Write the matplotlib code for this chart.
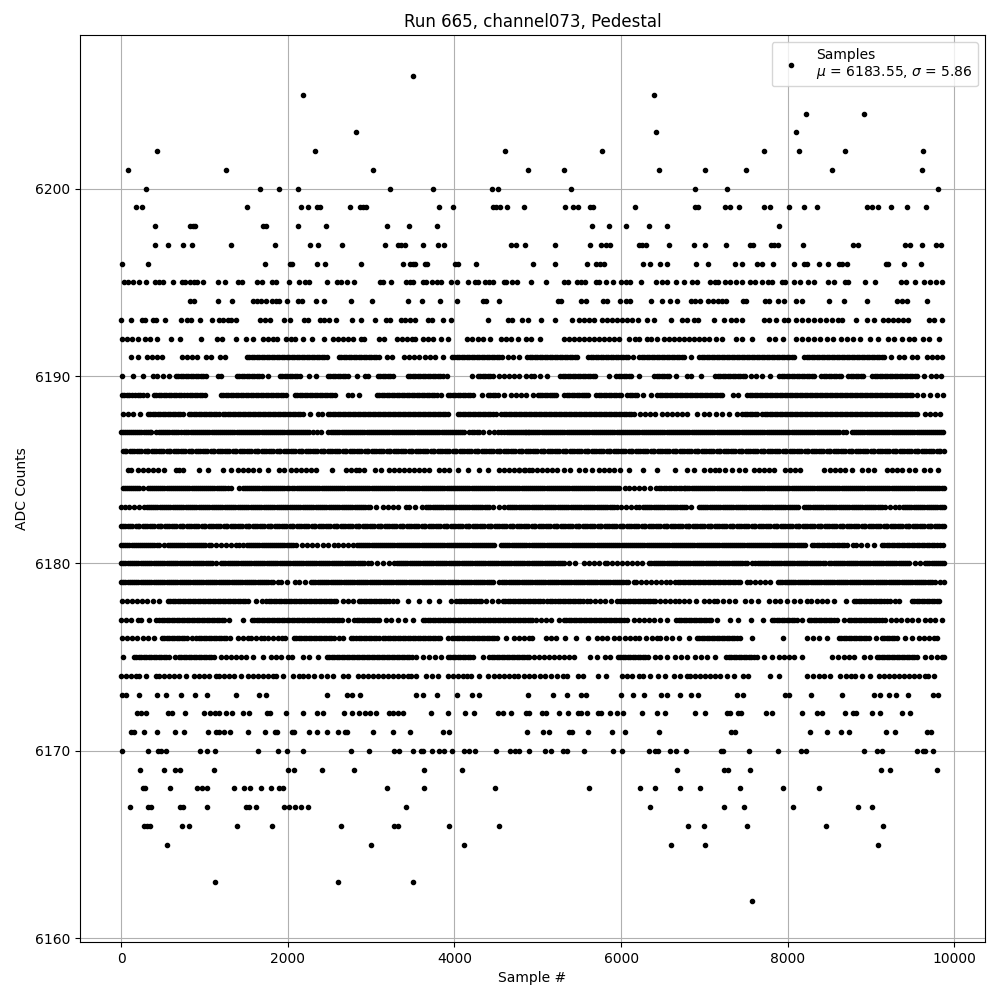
import matplotlib
matplotlib.use("Agg")
import matplotlib.pyplot as plt
import numpy as np

# sample numbers, one list per ADC level
row_6206 = [3500]
row_6205 = [2180, 6396]
row_6204 = [8220, 8916]
row_6203 = [2816, 6420, 8100]
row_6202 = [428, 2324, 4604, 5772, 7716, 8136, 8688, 9624]
row_6201 = [80, 1256, 3020, 4880, 5316, 6456, 7008, 7500, 8532, 9612]
row_6200 = [296, 1664, 1892, 2120, 3224, 3740, 4448, 4520, 5400, 6888, 7272, 9804]
row_6199 = [176, 248, 1508, 2156, 2240, 2348, 2384, 2744, 2864, 2900, 2936, 3812, 3980, 4460, 4496, 4544, 4628, 4832,
            5328, 5424, 5484, 5628, 5664, 6168, 6888, 6924, 7248, 7308, 7416, 7716, 7788, 8016, 8196, 8352, 8952,
            9012, 9084, 9240, 9432, 9660]
row_6198 = [404, 824, 860, 884, 1700, 1736, 2120, 2456, 3188, 3452, 3788, 5652, 5856, 6060, 6336, 6552, 7896]
row_6197 = [404, 560, 740, 848, 1316, 1844, 2264, 2360, 2648, 3164, 3320, 3356, 3404, 3620, 3800, 3872, 4676, 4736,
            4844, 5208, 5628, 5760, 5820, 5868, 6216, 6252, 6300, 6576, 6876, 7008, 7260, 7548, 7584, 7800, 7836,
            7884, 8184, 8784, 8844, 9408, 9468, 9612, 9780, 9840]
row_6196 = [8, 320, 1724, 2024, 2048, 2348, 2444, 2876, 3380, 3464, 3500, 3524, 3644, 3668, 4004, 4040, 4256, 4944,
            5208, 5592, 5700, 5748, 5796, 6264, 6348, 6468, 6552, 6900, 7044, 7368, 7452, 7632, 7692, 7824, 8076,
            8196, 8232, 8376, 8480, 8616, 8652, 8712, 9180, 9204, 9396, 9600]
row_6195 = [32, 80, 140, 212, 296, 404, 452, 500, 620, 728, 764, 824, 872, 908, 980, 1160, 1244, 1400, 1448, 1628,
            1688, 1808, 1856, 2012, 2132, 2204, 2252, 2468, 2588, 2636, 2708, 2792, 3104, 3140, 3244, 3416, 3464,
            3500, 3620, 3656, 3728, 3788, 3836, 3956, 4028, 4160, 4244, 4280, 4364, 4412, 4460, 4592, 4616, 4688,
            4748, 4920, 5100, 5316, 5364, 5472, 5520, 5568, 5700, 5736, 5820, 5900, 6000, 6060, 6108, 6240, 6420,
            6492, 6552, 6660, 6756, 6852, 6912, 7068, 7128, 7164, 7248, 7308, 7380, 7452, 7548, 7608, 7692, 7764,
            7812, 7932, 7968, 8076, 8148, 8244, 8316, 8484, 8556, 8688, 8724, 8928, 9048, 9360, 9420, 9528, 9636,
            9708, 9780, 9852]
row_6194 = [824, 872, 1160, 1328, 1580, 1628, 1676, 1736, 1808, 1856, 1892, 1988, 2120, 2168, 2336, 2432, 2756, 3008,
            3440, 3608, 3824, 4028, 4340, 4376, 4532, 5244, 5280, 5520, 5580, 5784, 5832, 5988, 6060, 6108, 6360,
            6492, 6588, 6672, 6840, 6888, 6948, 7044, 7104, 7164, 7212, 7260, 7464, 7500, 7728, 7776, 7884, 7956,
            8100, 8172, 8496, 8676, 8952, 9312, 9372, 9432, 9672]
row_6193 = [0, 116, 248, 284, 380, 416, 524, 716, 788, 836, 944, 1088, 1172, 1220, 1280, 1320, 1380, 1664, 1724, 1784,
            1952, 2024, 2192, 2240, 2384, 2432, 2492, 2576, 2768, 2876, 3044, 3176, 3224, 3356, 3404, 3464, 3524,
            3680, 3728, 3860, 3956, 4400, 4640, 4688, 4808, 4880, 5040, 5208, 5412, 5496, 5556, 5616, 5676, 5772,
            5832, 5892, 5952, 6012, 6072, 6132, 6204, 6312, 6396, 6600, 6732, 6792, 6876, 6924, 7116, 7236, 7320,
            7380, 7452, 7716, 7776, 7860, 7956, 8004, 8100, 8172, 8244, 8316, 8388, 8460, 8532, 8604, 8652, 8820,
            8952, 9036, 9144, 9204, 9264, 9324, 9384, 9444, 9696, 9756, 9852]
row_6192 = [8, 68, 128, 200, 284, 344, 428, 596, 704, 956, 1148, 1208, 1376, 1496, 1580, 1700, 1760, 1820, 1868, 1976,
            2036, 2084, 2180, 2288, 2432, 2540, 2600, 2660, 2720, 2780, 2876, 2912, 3092, 3152, 3308, 3368, 3428,
            3488, 3524, 3620, 3680, 3740, 3836, 3920, 4148, 4208, 4280, 4340, 4424, 4556, 4616, 4676, 4760, 4856,
            4920, 5028, 5316, 5376, 5436, 5496, 5556, 5616, 5676, 5736, 5796, 5856, 5916, 5976, 6096, 6168, 6216,
            6312, 6360, 6432, 6516, 6576, 6636, 6696, 6756, 6816, 6876, 6936, 6996, 7056, 7140, 7212, 7380, 7452,
            7572, 7776, 7848, 7944, 8100, 8172, 8244, 8316, 8388, 8472, 8544, 8640, 8712, 8784, 8868, 8988, 9084,
            9204, 9276, 9372, 9456, 9516, 9624, 9696, 9816]
row_6191 = [116, 200, 308, 368, 428, 488, 728, 788, 848, 908, 1016, 1076, 1184, 1244, 1508, 1568, 1628, 1688, 1748,
            1808, 1868, 1928, 1988, 2048, 2108, 2168, 2228, 2288, 2348, 2408, 2468, 2612, 2672, 2732, 2792, 2852,
            2912, 2972, 3032, 3092, 3188, 3248, 3392, 3452, 3512, 3572, 3644, 3704, 3764, 3860, 3968, 4028, 4088,
            4148, 4208, 4268, 4328, 4388, 4448, 4508, 4568, 4640, 4700, 4772, 4868, 4932, 4992, 5052, 5112, 5172,
            5232, 5292, 5352, 5412, 5472, 5604, 5664, 5724, 5784, 5844, 5904, 5964, 6024, 6084, 6144, 6216, 6276,
            6336, 6396, 6456, 6516, 6576, 6636, 6696, 6756, 6840, 6936, 6996, 7056, 7116, 7176, 7236, 7296, 7356,
            7416, 7476, 7536, 7596, 7656, 7716, 7776, 7836, 7896, 7956, 8016, 8076, 8196, 8256, 8316, 8376, 8436,
            8496, 8556, 8616, 8676, 8736, 8796, 8856, 8916, 8976, 9036, 9096, 9156, 9236, 9332, 9392, 9492, 9552,
            9672, 9732, 9792, 9852,
            1538, 1598, 1658, 1718, 1778, 1838, 1898, 1958, 2018, 2078, 2138, 2198, 2258, 2318, 2378, 2438, 2642,
            2702, 2762, 2822, 2882, 2942, 3002, 3062, 3998, 4058, 4118, 4178, 4238, 4298, 4358, 4418, 4478, 4538,
            4902, 4962, 5022, 5082, 5142, 5202, 5262, 5322, 5382, 5442, 5634, 5694, 5754, 5814, 5874, 5934, 5994,
            6054, 6246, 6306, 6366, 6426, 6486, 6546, 6606, 6666, 6726, 6966, 7026, 7086, 7146, 7206, 7266, 7326,
            7386, 7446, 7506, 7566, 7626, 7686, 7746, 7806, 7866, 7926, 7986, 8046, 8226, 8286, 8346, 8406, 8466,
            8526, 8586, 8646, 8706, 8766, 8826, 8886, 8946, 9006, 9066, 9126]
row_6190 = [8, 140, 260, 380, 428, 500, 572, 656, 716, 776, 836, 896, 956, 1016, 1160, 1196, 1388, 1448, 1508, 1568,
            1628, 1688, 1760, 1904, 1964, 2024, 2084, 2144, 2252, 2336, 2480, 2540, 2600, 2660, 2720, 2828, 2924,
            2960, 3080, 3140, 3200, 3260, 3440, 3500, 3560, 3620, 3680, 3740, 3800, 3860, 3908, 4208, 4280, 4340,
            4400, 4460, 4532, 4592, 4652, 4712, 4772, 4856, 4920, 4956, 5028, 5112, 5268, 5328, 5388, 5448, 5508,
            5568, 5628, 5688, 5856, 5940, 6000, 6060, 6120, 6216, 6396, 6456, 6516, 6576, 6660, 6792, 6840, 6960,
            7128, 7188, 7248, 7308, 7368, 7428, 7488, 7560, 7620, 7692, 7788, 7896, 7956, 8016, 8076, 8136, 8196,
            8256, 8316, 8400, 8460, 8520, 8580, 8640, 8724, 8784, 8844, 8904, 9012, 9072, 9132, 9192, 9252, 9312,
            9372, 9432, 9492, 9552, 9636, 9720, 9780, 9840,
            686, 746, 806, 866, 926, 986, 1418, 1478, 1538, 1598, 1658, 1934, 1994, 2054, 2114, 2510, 2570, 2630,
            2690, 3110, 3170, 3230, 3470, 3530, 3590, 3650, 3710, 3770, 3830, 4310, 4370, 4430, 5298, 5358, 5418,
            5478, 5538, 5598, 5658, 5970, 6030, 6090, 6426, 6486, 6546, 7158, 7218, 7278, 7338, 7398, 7458, 7926,
            7986, 8046, 8106, 8166, 8226, 8286, 8430, 8490, 8550, 8610, 8754, 8814, 8874, 9042, 9102, 9162, 9222,
            9282, 9342, 9402, 9462, 9522]
row_6189 = [8, 68, 128, 200, 260, 308, 392, 452, 512, 572, 632, 692, 752, 824, 884, 944, 1004, 1196, 1256, 1316, 1376,
            1436, 1496, 1556, 1616, 1676, 1736, 1796, 1856, 1916, 1976, 2084, 2144, 2204, 2264, 2324, 2384, 2444,
            2504, 2564, 2720, 2768, 2852, 3068, 3128, 3188, 3248, 3308, 3368, 3428, 3488, 3548, 3608, 3668, 3728,
            3788, 3836, 3920, 3980, 4040, 4100, 4160, 4220, 4328, 4400, 4460, 4520, 4592, 4676, 4736, 4796, 4856,
            4944, 5004, 5052, 5112, 5172, 5220, 5316, 5376, 5436, 5496, 5556, 5604, 5700, 5760, 5820, 5880, 5940,
            6000, 6072, 6132, 6192, 6264, 6360, 6432, 6492, 6552, 6612, 6672, 6732, 6792, 6852, 6912, 6972, 7032,
            7092, 7152, 7212, 7344, 7404, 7512, 7572, 7632, 7692, 7752, 7812, 7872, 7932, 7992, 8052, 8112, 8172,
            8232, 8292, 8352, 8412, 8472, 8532, 8592, 8652, 8712, 8772, 8832, 8892, 8952, 9012, 9072, 9132, 9192,
            9252, 9312, 9372, 9432, 9492, 9552, 9624, 9712, 9792, 9860,
            38, 98, 164, 230, 422, 482, 542, 602, 662, 722, 788, 854, 914, 974, 1226, 1286, 1346, 1406, 1466, 1526,
            1586, 1646, 1706, 1766, 1826, 1886, 1946, 2114, 2174, 2234, 2294, 2354, 2414, 2474, 2534, 3098, 3158,
            3218, 3278, 3338, 3398, 3458, 3518, 3578, 3638, 3698, 3758, 3950, 4010, 4070, 4130, 4190, 4430, 4490,
            5026, 5082, 5142, 5196, 5346, 5406, 5466, 5526, 5576, 5730, 5790, 5850, 5910, 5970, 6102, 6162, 6462,
            6522, 6582, 6642, 6702, 6762, 6822, 6882, 6942, 7002, 7062, 7122, 7182, 7542, 7602, 7662, 7722, 7782,
            7842, 7902, 7962, 8022, 8082, 8142, 8202, 8262, 8322, 8382, 8442, 8502, 8562, 8622, 8682, 8742, 8802,
            8862, 8922, 8982, 9042, 9102, 9162, 9222, 9282, 9342, 9402, 9462]
row_6188 = [20, 80, 140, 224, 320, 380, 440, 500, 560, 620, 680, 740, 812, 872, 932, 992, 1052, 1112, 1172, 1220, 1280,
            1340, 1400, 1460, 1520, 1580, 1640, 1700, 1760, 1820, 1880, 1940, 2000, 2060, 2120, 2180, 2268, 2360,
            2412, 2480, 2540, 2600, 2660, 2720, 2780, 2840, 2900, 2960, 3020, 3080, 3140, 3200, 3260, 3320, 3380,
            3440, 3500, 3560, 3620, 3680, 3740, 3800, 3860, 3920, 4040, 4100, 4160, 4220, 4280, 4340, 4400, 4460,
            4500, 4560, 4620, 4680, 4740, 4800, 4860, 4892, 4952, 5012, 5072, 5132, 5192, 5252, 5312, 5372, 5432,
            5492, 5552, 5612, 5672, 5732, 5792, 5852, 5912, 5972, 6032, 6092, 6152, 6232, 6292, 6352, 6412, 6492,
            6552, 6612, 6672, 6732, 6792, 6912, 6992, 7060, 7140, 7212, 7300, 7392, 7452, 7512, 7572, 7632, 7692,
            7752, 7812, 7872, 7932, 7992, 8052, 8112, 8172, 8232, 8292, 8352, 8412, 8472, 8532, 8592, 8652, 8712,
            8772, 8832, 8892, 8952, 9012, 9072, 9132, 9192, 9252, 9312, 9372, 9432, 9492, 9552, 9644, 9704, 9764, 9830,
            350, 410, 470, 530, 590, 650, 710, 842, 902, 962, 1022, 1082, 1142, 1250, 1310, 1370, 1430, 1490, 1550,
            1610, 1670, 1730, 1790, 1850, 1910, 1970, 2030, 2090, 2150, 2510, 2570, 2630, 2690, 2750, 2810, 2870,
            2930, 2990, 3050, 3110, 3170, 3230, 3290, 3350, 3410, 3470, 3530, 3590, 3650, 3710, 3770, 3830, 3890,
            4070, 4130, 4190, 4250, 4310, 4370, 4430, 4590, 4650, 4710, 4770, 4830, 4922, 4982, 5042, 5102, 5162,
            5222, 5282, 5342, 5402, 5462, 5522, 5582, 5642, 5702, 5762, 5822, 5882, 5942, 6002, 6062, 6122, 7482,
            7542, 7602, 7722, 7782, 7842, 7902, 7962, 8022, 8082, 8142, 8202, 8262, 8322, 8382, 8442, 8502, 8562,
            8622, 8682, 8742, 8802, 8862, 8922, 8982, 9042, 9102, 9162, 9222, 9282, 9342, 9402, 9462, 9522]
row_6187 = [0, 48, 96, 148, 196, 244, 296, 344, 360, 420, 476, 528, 580, 632, 684, 720, 760, 808, 860, 908, 960, 1012,
            1060, 1112, 1160, 1212, 1260, 1312, 1360, 1412, 1460, 1512, 1560, 1612, 1660, 1712, 1760, 1812, 1860,
            1912, 1960, 2012, 2060, 2112, 2160, 2212, 2260, 2300, 2350, 2400, 2480, 2520, 2572, 2620, 2672, 2720,
            2772, 2820, 2872, 2920, 2972, 3020, 3072, 3120, 3172, 3220, 3272, 3320, 3372, 3420, 3472, 3520, 3572,
            3620, 3672, 3720, 3772, 3820, 3872, 3920, 3972, 4020, 4072, 4120, 4180, 4240, 4290, 4340, 4420, 4470,
            4520, 4560, 4600, 4652, 4700, 4752, 4800, 4852, 4900, 4860, 4920, 4970, 5020, 5072, 5120, 5172, 5220,
            5272, 5320, 5372, 5420, 5472, 5520, 5572, 5620, 5672, 5720, 5772, 5820, 5872, 5920, 5972, 6020, 6072,
            6120, 6172, 6220, 6272, 6320, 6372, 6420, 6472, 6520, 6572, 6620, 6672, 6720, 6772, 6820, 6872, 6920,
            6972, 7020, 7072, 7120, 7172, 7220, 7272, 7320, 7372, 7420, 7472, 7520, 7572, 7620, 7672, 7720, 7772,
            7820, 7872, 7920, 7972, 8020, 8072, 8120, 8172, 8220, 8272, 8320, 8372, 8420, 8472, 8520, 8572, 8620,
            8660, 8700, 8772, 8820, 8872, 8920, 8972, 9020, 9072, 9120, 9172, 9220, 9272, 9320, 9372, 9420, 9472,
            9520, 9572, 9620, 9672, 9720, 9772, 9820, 9860,
            24, 72, 122, 172, 220, 270, 320, 450, 502, 554, 606, 658, 784, 834, 884, 934, 986, 1036, 1086, 1136, 1186,
            1236, 1286, 1336, 1386, 1436, 1486, 1536, 1586, 1636, 1686, 1736, 1786, 1836, 1886, 1936, 1986, 2036,
            2086, 2136, 2186, 2236, 2546, 2596, 2646, 2696, 2746, 2796, 2846, 2896, 2946, 2996, 3046, 3096, 3146,
            3196, 3246, 3296, 3346, 3396, 3446, 3496, 3546, 3596, 3646, 3696, 3746, 3796, 3846, 3896, 3946, 3996,
            4046, 4096, 4210, 4266, 4626, 4676, 4726, 4776, 4826, 4880, 4945, 4995, 5046, 5096, 5146, 5196, 5246,
            5296, 5346, 5396, 5446, 5496, 5546, 5596, 5646, 5696, 5746, 5796, 5846, 5896, 5946, 5996, 6046, 6096,
            6146, 6196, 6246, 6296, 6346, 6396, 6446, 6496, 6546, 6596, 6646, 6696, 6746, 6796, 6846, 6896, 6946,
            6996, 7046, 7096, 7146, 7196, 7246, 7296, 7346, 7396, 7446, 7496, 7546, 7596, 7646, 7696, 7746, 7796,
            7846, 7896, 7946, 7996, 8046, 8096, 8146, 8196, 8246, 8296, 8346, 8396, 8446, 8496, 8546, 8596, 8796,
            8846, 8896, 8946, 8996, 9046, 9096, 9146, 9196, 9246, 9296, 9346, 9396, 9446, 9496, 9546, 9596, 9646,
            9696, 9746, 9796, 9840]
row_6186 = [20, 64, 108, 152, 196, 240, 284, 328, 372, 416, 460, 504, 548, 592, 636, 680, 724, 768, 812, 856, 900, 944,
            988, 1032, 1076, 1120, 1164, 1208, 1252, 1296, 1340, 1384, 1428, 1472, 1516, 1560, 1604, 1648, 1692,
            1736, 1780, 1824, 1868, 1912, 1956, 2000, 2044, 2088, 2132, 2176, 2220, 2264, 2308, 2352, 2396, 2440,
            2484, 2528, 2572, 2616, 2660, 2704, 2748, 2792, 2836, 2880, 2924, 2968, 3012, 3056, 3100, 3144, 3188,
            3232, 3276, 3320, 3364, 3408, 3452, 3496, 3540, 3584, 3628, 3672, 3716, 3760, 3804, 3848, 3892, 3936,
            3980, 4024, 4068, 4112, 4156, 4200, 4244, 4288, 4332, 4376, 4420, 4464, 4508, 4552, 4596, 4640, 4684,
            4728, 4772, 4816, 4860, 4904, 4948, 4992, 5036, 5080, 5124, 5168, 5212, 5256, 5300, 5344, 5388, 5432,
            5476, 5520, 5564, 5608, 5652, 5696, 5740, 5784, 5828, 5872, 5916, 5960, 6004, 6048, 6092, 6136, 6180,
            6224, 6268, 6312, 6356, 6400, 6444, 6488, 6532, 6576, 6620, 6664, 6708, 6752, 6796, 6840, 6884, 6928,
            6972, 7016, 7060, 7104, 7148, 7192, 7236, 7280, 7324, 7368, 7412, 7456, 7500, 7544, 7588, 7632, 7676,
            7720, 7764, 7808, 7852, 7896, 7940, 7984, 8028, 8072, 8116, 8160, 8204, 8248, 8292, 8336, 8380, 8424,
            8468, 8512, 8556, 8600, 8644, 8688, 8732, 8776, 8820, 8864, 8908, 8952, 8996, 9040, 9084, 9128, 9172,
            9216, 9260, 9304, 9348, 9392, 9436, 9480, 9524, 9568, 9612, 9656, 9700, 9744, 9788, 9832, 9873,
            42, 130, 218, 306, 394, 482, 570, 658, 746, 834, 922, 1010, 1098, 1186, 1274, 1362, 1450, 1538, 1626,
            1714, 1802, 1890, 1978, 2066, 2154, 2242, 2330, 2418, 2506, 2594, 2682, 2770, 2858, 2946, 3034, 3122,
            3210, 3298, 3386, 3474, 3562, 3650, 3738, 3826, 3914, 4002, 4090, 4178, 4266, 4354, 4442, 4530, 4618,
            4706, 4794, 4882, 4970, 5058, 5146, 5234, 5322, 5410, 5498, 5586, 5674, 5762, 5850, 5938, 6026, 6114,
            6202, 6290, 6378, 6466, 6554, 6642, 6730, 6818, 6906, 6994, 7082, 7170, 7258, 7346, 7434, 7522, 7610,
            7698, 7786, 7874, 7962, 8050, 8138, 8226, 8314, 8402, 8490, 8578, 8666, 8754, 8842, 8930, 9018, 9106,
            9194, 9282, 9370, 9458, 9546, 9634, 9722, 9810]
row_6185 = [80, 124, 200, 260, 320, 380, 440, 520, 660, 700, 740, 940, 1040, 1220, 1316, 1400, 1460, 1520, 1580, 1652,
            1760, 1900, 1960, 2040, 2100, 2160, 2220, 2280, 2340, 2528, 2700, 2760, 2820, 2860, 2920, 3052, 3120,
            3220, 3280, 3340, 3400, 3460, 3520, 3580, 3640, 3700, 3820, 3880, 3940, 4040, 4160, 4292, 4400, 4540,
            4600, 4660, 4720, 4780, 4840, 4900, 4772, 4850, 4932, 4992, 5052, 5112, 5172, 5232, 5312, 5392, 5492,
            5572, 5652, 5732, 5792, 5852, 5912, 5992, 6096, 6264, 6432, 6648, 6792, 6872, 6992, 7072, 7132, 7172,
            7252, 7332, 7412, 7492, 7592, 7652, 7712, 7772, 7832, 7972, 8032, 8092, 8152, 8436, 8512, 8572, 8632,
            8692, 8772, 8892, 8960, 9032, 9192, 9252, 9312, 9372, 9452, 9532, 9632, 9712, 9804]
row_6184 = [20, 70, 120, 170, 220, 260, 320, 370, 420, 470, 520, 570, 620, 670, 720, 770, 820, 870, 920, 970, 1020,
            1070, 1120, 1170, 1220, 1280, 1320, 1420, 1460, 1510, 1560, 1610, 1660, 1710, 1760, 1810, 1860, 1910,
            1960, 2010, 2052, 2080, 2130, 2180, 2230, 2280, 2330, 2380, 2430, 2480, 2530, 2580, 2630, 2680, 2730,
            2780, 2830, 2880, 2930, 2980, 3030, 3080, 3130, 3180, 3230, 3280, 3330, 3380, 3430, 3480, 3530, 3580,
            3630, 3680, 3730, 3780, 3830, 3880, 3930, 3980, 4030, 4080, 4130, 4180, 4230, 4280, 4330, 4380, 4430,
            4480, 4530, 4580, 4630, 4680, 4730, 4780, 4830, 4880, 4930, 4980, 5030, 5080, 5130, 5180, 5230, 5280,
            5330, 5380, 5430, 5480, 5530, 5580, 5630, 5680, 5730, 5780, 5830, 5880, 5930, 5980, 6044, 6092, 6150,
            6210, 6270, 6352, 6420, 6480, 6540, 6600, 6660, 6720, 6752, 6772, 6820, 6870, 6920, 6970, 7020, 7070,
            7120, 7170, 7220, 7270, 7320, 7370, 7420, 7470, 7520, 7570, 7620, 7670, 7720, 7770, 7820, 7870, 7920,
            7970, 8020, 8070, 8120, 8170, 8220, 8270, 8320, 8370, 8420, 8470, 8520, 8570, 8620, 8670, 8720, 8770,
            8820, 8870, 8920, 8970, 9020, 9070, 9120, 9170, 9220, 9270, 9320, 9370, 9420, 9470, 9520, 9570, 9620,
            9670, 9720, 9770, 9820, 9870,
            45, 95, 145, 195, 345, 395, 445, 495, 545, 595, 645, 695, 745, 795, 845, 895, 945, 995, 1045, 1095, 1145,
            1195, 1245, 1485, 1535, 1585, 1635, 1685, 1735, 1785, 1835, 1885, 1935, 1985, 2105, 2155, 2205, 2255,
            2305, 2355, 2405, 2455, 2505, 2555, 2605, 2655, 2705, 2755, 2805, 2855, 2905, 2955, 3005, 3055, 3105,
            3155, 3205, 3255, 3305, 3355, 3405, 3455, 3505, 3555, 3605, 3655, 3705, 3755, 3805, 3855, 3905, 3955,
            4005, 4055, 4105, 4155, 4205, 4255, 4305, 4355, 4405, 4455, 4505, 4555, 4605, 4655, 4705, 4755, 4805,
            4855, 4905, 4955, 5005, 5055, 5105, 5155, 5205, 5255, 5305, 5355, 5405, 5455, 5505, 5555, 5605, 5655,
            5705, 5755, 5805, 5855, 5905, 5955, 6450, 6510, 6570, 6630, 6690, 6795, 6845, 6895, 6945, 6995, 7045,
            7095, 7145, 7195, 7245, 7295, 7345, 7395, 7445, 7495, 7545, 7595, 7645, 7695, 7745, 7795, 7845, 7895,
            7945, 7995, 8045, 8095, 8145, 8195, 8245, 8295, 8345, 8395, 8445, 8495, 8545, 8595, 8645, 8695, 8745,
            8795, 8845, 8895, 8945, 8995, 9045, 9095, 9145, 9195, 9245, 9295, 9345, 9395, 9445, 9495, 9545, 9595,
            9645, 9695, 9745, 9795, 9845]
row_6183 = [0, 52, 100, 160, 220, 280, 332, 384, 436, 488, 540, 592, 644, 696, 748, 800, 852, 904, 956, 1008, 1060,
            1112, 1164, 1216, 1268, 1320, 1372, 1424, 1476, 1528, 1580, 1632, 1684, 1736, 1788, 1840, 1892, 1944,
            1996, 2048, 2100, 2152, 2204, 2256, 2308, 2360, 2412, 2464, 2516, 2568, 2620, 2672, 2724, 2776, 2828,
            2880, 2932, 2984, 3060, 3140, 3200, 3260, 3320, 3420, 3460, 3530, 3612, 3660, 3712, 3764, 3816, 3868,
            3920, 3972, 4024, 4076, 4128, 4180, 4232, 4284, 4336, 4388, 4420, 4460, 4530, 4600, 4640, 4692, 4744,
            4796, 4848, 4900, 4952, 5004, 5056, 5108, 5160, 5212, 5264, 5316, 5368, 5420, 5472, 5524, 5576, 5628,
            5680, 5732, 5784, 5836, 5888, 5952, 6004, 6060, 6120, 6180, 6212, 6260, 6312, 6364, 6416, 6468, 6520,
            6572, 6624, 6676, 6728, 6780, 6844, 6932, 6984, 7036, 7088, 7140, 7192, 7244, 7296, 7348, 7400, 7452,
            7504, 7556, 7608, 7660, 7712, 7764, 7816, 7868, 7920, 7972, 8024, 8076, 8128, 8192, 8220, 8272, 8324,
            8376, 8428, 8480, 8532, 8584, 8636, 8688, 8740, 8792, 8844, 8896, 8948, 9000, 9052, 9104, 9132, 9172,
            9232, 9292, 9332, 9380, 9432, 9484, 9536, 9588, 9640, 9692, 9744, 9796, 9848, 9872,
            306, 358, 410, 462, 514, 566, 618, 670, 722, 774, 826, 878, 930, 982, 1034, 1086, 1138, 1190, 1242, 1294,
            1346, 1398, 1450, 1502, 1554, 1606, 1658, 1710, 1762, 1814, 1866, 1918, 1970, 2022, 2074, 2126, 2178,
            2230, 2282, 2334, 2386, 2438, 2490, 2542, 2594, 2646, 2698, 2750, 2802, 2854, 2906, 2958, 3686, 3738,
            3790, 3842, 3894, 3946, 3998, 4050, 4102, 4154, 4206, 4258, 4310, 4362, 4666, 4718, 4770, 4822, 4874,
            4926, 4978, 5030, 5082, 5134, 5186, 5238, 5290, 5342, 5394, 5446, 5498, 5550, 5602, 5654, 5706, 5758,
            5810, 5862, 5914, 6286, 6338, 6390, 6442, 6494, 6546, 6598, 6650, 6702, 6754, 6958, 7010, 7062, 7114,
            7166, 7218, 7270, 7322, 7374, 7426, 7478, 7530, 7582, 7634, 7686, 7738, 7790, 7842, 7894, 7946, 7998,
            8050, 8102, 8246, 8298, 8350, 8402, 8454, 8506, 8558, 8610, 8662, 8714, 8766, 8818, 8870, 8922, 8974,
            9026, 9078, 9406, 9458, 9510, 9562, 9614, 9666, 9718, 9770, 9822]
row_6182 = [0, 44, 88, 132, 176, 220, 264, 308, 352, 396, 440, 484, 528, 572, 616, 660, 704, 748, 792, 836, 880, 924,
            968, 1012, 1056, 1100, 1144, 1188, 1232, 1276, 1320, 1364, 1408, 1452, 1496, 1540, 1584, 1628, 1672,
            1716, 1760, 1804, 1848, 1892, 1936, 1980, 2024, 2068, 2112, 2156, 2200, 2244, 2288, 2332, 2376, 2420,
            2464, 2508, 2552, 2596, 2640, 2684, 2728, 2772, 2816, 2860, 2904, 2948, 2992, 3036, 3080, 3124, 3168,
            3212, 3256, 3300, 3344, 3388, 3432, 3476, 3520, 3564, 3608, 3652, 3696, 3740, 3784, 3828, 3872, 3916,
            3960, 4004, 4048, 4092, 4136, 4180, 4224, 4268, 4312, 4356, 4400, 4444, 4488, 4532, 4576, 4620, 4664,
            4708, 4752, 4796, 4840, 4884, 4928, 4972, 5016, 5060, 5104, 5148, 5192, 5236, 5280, 5324, 5368, 5412,
            5456, 5500, 5544, 5588, 5632, 5676, 5720, 5764, 5808, 5852, 5896, 5940, 5984, 6028, 6072, 6116, 6160,
            6204, 6248, 6292, 6336, 6380, 6424, 6468, 6512, 6556, 6600, 6644, 6688, 6732, 6776, 6820, 6864, 6908,
            6952, 6996, 7040, 7084, 7128, 7172, 7216, 7260, 7304, 7348, 7392, 7436, 7480, 7524, 7568, 7612, 7656,
            7700, 7744, 7788, 7832, 7876, 7920, 7964, 8008, 8052, 8096, 8140, 8184, 8228, 8272, 8316, 8360, 8404,
            8448, 8492, 8536, 8580, 8624, 8668, 8712, 8756, 8800, 8844, 8888, 8932, 8976, 9020, 9064, 9108, 9152,
            9196, 9240, 9284, 9328, 9372, 9416, 9460, 9504, 9548, 9592, 9636, 9680, 9724, 9768, 9812, 9856, 9873,
            22, 110, 198, 286, 374, 462, 550, 638, 726, 814, 902, 990, 1078, 1166, 1254, 1342, 1430, 1518, 1606, 1694,
            1782, 1870, 1958, 2046, 2134, 2222, 2310, 2398, 2486, 2574, 2662, 2750, 2838, 2926, 3014, 3102, 3190,
            3278, 3366, 3454, 3542, 3630, 3718, 3806, 3894, 3982, 4070, 4158, 4246, 4334, 4422, 4510, 4598, 4686,
            4774, 4862, 4950, 5038, 5126, 5214, 5302, 5390, 5478, 5566, 5654, 5742, 5830, 5918, 6006, 6094, 6182,
            6270, 6358, 6446, 6534, 6622, 6710, 6798, 6886, 6974, 7062, 7150, 7238, 7326, 7414, 7502, 7590, 7678,
            7766, 7854, 7942, 8030, 8118, 8206, 8294, 8382, 8470, 8558, 8646, 8734, 8822, 8910, 8998, 9086, 9174,
            9262, 9350, 9438, 9526, 9614, 9702, 9790]
row_6181 = [0, 50, 100, 150, 200, 250, 300, 350, 400, 450, 520, 560, 610, 660, 710, 760, 810, 860, 910, 960, 1010,
            1052, 1080, 1140, 1200, 1260, 1320, 1380, 1420, 1468, 1508, 1560, 1610, 1660, 1710, 1760, 1810, 1860,
            1910, 1960, 2010, 2060, 2100, 2172, 2228, 2290, 2350, 2428, 2480, 2560, 2600, 2660, 2720, 2780, 2830,
            2880, 2928, 2980, 3030, 3080, 3130, 3180, 3230, 3280, 3330, 3380, 3430, 3480, 3530, 3580, 3630, 3680,
            3730, 3780, 3830, 3880, 3930, 3980, 4030, 4080, 4130, 4180, 4230, 4280, 4330, 4380, 4430, 4480, 4560,
            4610, 4660, 4710, 4760, 4810, 4860, 4900, 4932, 4980, 5030, 5080, 5130, 5180, 5230, 5280, 5330, 5380,
            5430, 5480, 5530, 5580, 5630, 5680, 5730, 5780, 5830, 5880, 5930, 5980, 6030, 6080, 6130, 6180, 6230,
            6280, 6330, 6380, 6430, 6480, 6530, 6580, 6630, 6680, 6730, 6780, 6830, 6880, 6930, 6980, 7030, 7080,
            7130, 7180, 7230, 7280, 7330, 7380, 7430, 7480, 7530, 7580, 7630, 7680, 7730, 7780, 7830, 7880, 7930,
            7980, 8030, 8080, 8130, 8180, 8212, 8292, 8350, 8410, 8470, 8530, 8590, 8650, 8710, 8784, 8820, 8880,
            8950, 9032, 9132, 9190, 9250, 9310, 9370, 9430, 9490, 9550, 9610, 9670, 9730, 9790, 9860,
            25, 75, 125, 175, 225, 275, 325, 375, 425, 585, 635, 685, 735, 785, 835, 885, 935, 985, 1535, 1585, 1635,
            1685, 1735, 1785, 1835, 1885, 1935, 1985, 2035, 2855, 2905, 2955, 3005, 3055, 3105, 3155, 3205, 3255,
            3305, 3355, 3405, 3455, 3505, 3555, 3605, 3655, 3705, 3755, 3805, 3855, 3905, 3955, 4005, 4055, 4105,
            4155, 4205, 4255, 4305, 4355, 4405, 4455, 4585, 4635, 4685, 4735, 4785, 4835, 4955, 5005, 5055, 5105,
            5155, 5205, 5255, 5305, 5355, 5405, 5455, 5505, 5555, 5605, 5655, 5705, 5755, 5805, 5855, 5905, 5955,
            6005, 6055, 6105, 6155, 6205, 6255, 6305, 6355, 6405, 6455, 6505, 6555, 6605, 6655, 6705, 6755, 6805,
            6855, 6905, 6955, 7005, 7055, 7105, 7155, 7205, 7255, 7305, 7355, 7405, 7455, 7505, 7555, 7605, 7655,
            7705, 7755, 7805, 7855, 7905, 7955, 8005, 8055, 8105, 8155, 8320, 8380, 8440, 8500, 8560, 8620, 8680,
            9160, 9220, 9280, 9340, 9400, 9460, 9520, 9580, 9640, 9700, 9760, 9825]
row_6180 = [0, 52, 104, 156, 208, 260, 312, 364, 416, 468, 520, 572, 624, 676, 728, 780, 832, 884, 936, 988, 1040,
            1092, 1140, 1200, 1252, 1304, 1356, 1408, 1460, 1512, 1564, 1616, 1668, 1720, 1772, 1824, 1876, 1928,
            1980, 2032, 2084, 2136, 2188, 2240, 2292, 2344, 2396, 2448, 2500, 2552, 2604, 2656, 2708, 2760, 2812,
            2864, 2916, 2960, 3000, 3070, 3140, 3220, 3280, 3332, 3384, 3436, 3488, 3540, 3592, 3644, 3696, 3748,
            3800, 3852, 3904, 3956, 4008, 4060, 4112, 4164, 4216, 4268, 4320, 4372, 4424, 4476, 4528, 4580, 4632,
            4684, 4736, 4788, 4840, 4900, 4952, 5004, 5056, 5108, 5160, 5212, 5264, 5316, 5372, 5444, 5552, 5612,
            5672, 5732, 5812, 5832, 5890, 5950, 6010, 6070, 6130, 6190, 6250, 6332, 6364, 6416, 6468, 6520, 6572,
            6624, 6676, 6728, 6780, 6832, 6884, 6936, 6988, 7040, 7092, 7144, 7196, 7248, 7300, 7352, 7404, 7456,
            7508, 7572, 7612, 7664, 7716, 7768, 7820, 7872, 7924, 7976, 8028, 8080, 8132, 8184, 8236, 8288, 8340,
            8392, 8444, 8492, 8524, 8576, 8628, 8680, 8732, 8784, 8836, 8888, 8940, 8992, 9044, 9096, 9148, 9200,
            9252, 9304, 9356, 9408, 9460, 9532, 9584, 9652, 9700, 9752, 9804, 9856, 9873,
            26, 78, 130, 182, 234, 286, 338, 390, 442, 494, 546, 598, 650, 702, 754, 806, 858, 910, 962, 1014, 1066,
            1226, 1278, 1330, 1382, 1434, 1486, 1538, 1590, 1642, 1694, 1746, 1798, 1850, 1902, 1954, 2006, 2058,
            2110, 2162, 2214, 2266, 2318, 2370, 2422, 2474, 2526, 2578, 2630, 2682, 2734, 2786, 2838, 2890, 3306,
            3358, 3410, 3462, 3514, 3566, 3618, 3670, 3722, 3774, 3826, 3878, 3930, 3982, 4034, 4086, 4138, 4190,
            4242, 4294, 4346, 4398, 4450, 4502, 4554, 4606, 4658, 4710, 4762, 4814, 4870, 4926, 4978, 5030, 5082,
            5134, 5186, 5238, 5290, 6390, 6442, 6494, 6546, 6598, 6650, 6702, 6754, 6806, 6858, 6910, 6962, 7014,
            7066, 7118, 7170, 7222, 7274, 7326, 7378, 7430, 7482, 7638, 7690, 7742, 7794, 7846, 7898, 7950, 8002,
            8054, 8106, 8158, 8210, 8262, 8314, 8366, 8418, 8550, 8602, 8654, 8706, 8758, 8810, 8862, 8914, 8966,
            9018, 9070, 9122, 9174, 9226, 9278, 9330, 9382, 9434, 9676, 9728, 9780, 9830]
row_6179 = [0, 52, 104, 156, 208, 260, 312, 364, 416, 468, 520, 572, 624, 676, 728, 780, 832, 884, 936, 988, 1040,
            1092, 1144, 1196, 1248, 1300, 1352, 1404, 1456, 1508, 1560, 1612, 1664, 1716, 1768, 1820, 1880, 1920,
            1990, 2088, 2132, 2212, 2280, 2332, 2384, 2436, 2488, 2540, 2592, 2644, 2696, 2748, 2800, 2852, 2904,
            2956, 3008, 3060, 3112, 3164, 3216, 3268, 3320, 3372, 3424, 3476, 3528, 3580, 3632, 3684, 3736, 3788,
            3840, 3892, 3944, 3996, 4048, 4100, 4152, 4204, 4256, 4308, 4360, 4412, 4464, 4540, 4572, 4624, 4676,
            4728, 4780, 4832, 4884, 4936, 4988, 5040, 5092, 5144, 5196, 5248, 5300, 5352, 5404, 5456, 5508, 5560,
            5612, 5664, 5716, 5768, 5820, 5872, 5924, 5976, 6028, 6080, 6152, 6180, 6240, 6300, 6360, 6420, 6480,
            6540, 6592, 6652, 6710, 6770, 6830, 6890, 6950, 7010, 7070, 7130, 7190, 7250, 7310, 7370, 7430, 7512,
            7552, 7610, 7670, 7730, 7792, 7884, 7936, 7988, 8040, 8092, 8144, 8196, 8248, 8300, 8352, 8404, 8456,
            8508, 8560, 8612, 8664, 8716, 8768, 8820, 8872, 8924, 8976, 9028, 9080, 9132, 9184, 9236, 9288, 9340,
            9392, 9444, 9496, 9548, 9600, 9652, 9704, 9732, 9772, 9830, 9870,
            26, 78, 130, 182, 234, 286, 338, 390, 442, 494, 546, 598, 650, 702, 754, 806, 858, 910, 962, 1014, 1066,
            1118, 1170, 1222, 1274, 1326, 1378, 1430, 1482, 1534, 1586, 1638, 1690, 1742, 1794, 2306, 2358, 2410,
            2462, 2514, 2566, 2618, 2670, 2722, 2774, 2826, 2878, 2930, 2982, 3034, 3086, 3138, 3190, 3242, 3294,
            3346, 3398, 3450, 3502, 3554, 3606, 3658, 3710, 3762, 3814, 3866, 3918, 3970, 4022, 4074, 4126, 4178,
            4230, 4282, 4334, 4386, 4438, 4598, 4650, 4702, 4754, 4806, 4858, 4910, 4962, 5014, 5066, 5118, 5170,
            5222, 5274, 5326, 5378, 5430, 5482, 5534, 5586, 5638, 5690, 5742, 5794, 5846, 5898, 5950, 6002, 6054,
            6680, 6740, 6800, 6860, 6920, 6980, 7040, 7100, 7160, 7220, 7280, 7340, 7400, 7910, 7962, 8014, 8066,
            8118, 8170, 8222, 8274, 8326, 8378, 8430, 8482, 8534, 8586, 8638, 8690, 8742, 8794, 8846, 8898, 8950,
            9002, 9054, 9106, 9158, 9210, 9262, 9314, 9366, 9418, 9470, 9522, 9574, 9626, 9678]
row_6178 = [12, 70, 130, 190, 250, 310, 380, 460, 560, 620, 680, 740, 800, 860, 920, 980, 1040, 1100, 1160, 1220, 1280,
            1340, 1400, 1460, 1520, 1620, 1688, 1740, 1800, 1860, 1920, 1980, 2040, 2100, 2160, 2220, 2280, 2340,
            2400, 2460, 2520, 2580, 2660, 2720, 2780, 2852, 2910, 2970, 3030, 3090, 3150, 3210, 3260, 3312, 3440,
            3580, 3700, 3820, 3960, 4020, 4080, 4140, 4200, 4260, 4320, 4380, 4450, 4520, 4580, 4640, 4700, 4760,
            4820, 4880, 4940, 5000, 5060, 5110, 5152, 5172, 5240, 5300, 5360, 5420, 5480, 5540, 5592, 5632, 5690,
            5752, 5812, 5880, 5952, 5992, 6050, 6110, 6170, 6230, 6290, 6350, 6410, 6472, 6532, 6590, 6650, 6700,
            6752, 6812, 6900, 6992, 7052, 7112, 7152, 7220, 7300, 7372, 7492, 7560, 7644, 7772, 7852, 7910, 7992,
            8072, 8150, 8232, 8284, 8352, 8412, 8472, 8560, 8700, 8792, 8850, 8910, 8970, 9030, 9090, 9150, 9192,
            9232, 9290, 9332, 9492, 9550, 9610, 9670, 9730, 9790, 9820,
            590, 650, 710, 770, 830, 890, 950, 1010, 1070, 1130, 1190, 1250, 1310, 1370, 1430, 1490, 1770, 1830, 1890,
            1950, 2010, 2070, 2130, 2190, 2250, 2310, 2370, 2430, 2490, 2550, 2880, 2940, 3000, 3060, 3120, 3180,
            4050, 4110, 4170, 4230, 4290, 4610, 4670, 4730, 4790, 4850, 4910, 4970, 5030, 5205, 5270, 5330, 5390,
            5450, 5510, 6020, 6080, 6140, 6200, 6260, 6320, 6380, 8820, 8880, 8940, 9000, 9060, 9120, 9520, 9580,
            9640, 9700, 9760]
row_6177 = [0, 60, 120, 200, 240, 340, 420, 460, 520, 580, 640, 700, 760, 820, 880, 940, 1000, 1060, 1120, 1180, 1240,
            1300, 1460, 1572, 1630, 1690, 1750, 1810, 1870, 1930, 1990, 2050, 2110, 2170, 2230, 2290, 2350, 2410,
            2470, 2530, 2590, 2650, 2720, 2800, 2860, 2920, 2980, 3040, 3100, 3180, 3240, 3320, 3412, 3508, 3620,
            3680, 3740, 3800, 3860, 3920, 3980, 4040, 4100, 4160, 4220, 4280, 4340, 4400, 4460, 4520, 4580, 4640,
            4700, 4760, 4820, 4880, 4932, 4980, 5040, 5100, 5160, 5260, 5312, 5370, 5430, 5490, 5550, 5610, 5670,
            5730, 5790, 5850, 5910, 5970, 6030, 6072, 6152, 6210, 6272, 6332, 6400, 6472, 6552, 6660, 6720, 6780,
            6840, 6900, 6960, 7020, 7080, 7152, 7312, 7404, 7560, 7704, 7812, 7870, 7930, 7990, 8050, 8110, 8172,
            8252, 8310, 8370, 8430, 8490, 8550, 8592, 8676, 8732, 8790, 8850, 8910, 8970, 9030, 9090, 9132, 9172,
            9240, 9300, 9360, 9432, 9492, 9564, 9644, 9710, 9772, 9852,
            490, 550, 610, 670, 730, 790, 850, 910, 970, 1030, 1090, 1150, 1210, 1600, 1660, 1720, 1780, 1840, 1900,
            1960, 2020, 2080, 2140, 2200, 2260, 2320, 2380, 2440, 2500, 2560, 2620, 2830, 2890, 2950, 3010, 3070,
            3650, 3710, 3770, 3830, 3890, 3950, 4010, 4070, 4130, 4190, 4250, 4310, 4370, 4430, 4490, 4550, 4610,
            4670, 4730, 4790, 4850, 4905, 5340, 5400, 5460, 5520, 5580, 5640, 5700, 5760, 5820, 5880, 5940, 6000,
            6690, 6750, 6810, 6870, 6930, 6990, 7050, 7840, 7900, 7960, 8020, 8080, 8280, 8340, 8400, 8460, 8520,
            8760, 8820, 8880, 8940, 9000, 9060]
row_6176 = [12, 70, 130, 190, 260, 320, 400, 488, 550, 610, 670, 730, 790, 852, 900, 960, 1020, 1080, 1140, 1200, 1260,
            1308, 1400, 1460, 1520, 1560, 1620, 1680, 1720, 1760, 1820, 1880, 1930, 1972, 2072, 2130, 2190, 2250,
            2310, 2370, 2430, 2490, 2550, 2620, 2660, 2760, 2788, 2850, 2910, 2970, 3030, 3090, 3140, 3172, 3230,
            3290, 3350, 3410, 3470, 3530, 3590, 3650, 3710, 3770, 3830, 3920, 3972, 4030, 4090, 4150, 4210, 4270,
            4330, 4390, 4450, 4508, 4620, 4720, 4772, 4830, 4890, 4932, 5100, 5160, 5220, 5324, 5464, 5604, 5712,
            5770, 5830, 5912, 5972, 6044, 6110, 6172, 6212, 6300, 6370, 6432, 6472, 6540, 6612, 6692, 6812, 6912,
            6970, 7030, 7090, 7150, 7210, 7270, 7330, 7390, 7432, 7572, 7944, 8232, 8300, 8372, 8472, 8612, 8670,
            8730, 8790, 8850, 8910, 8970, 9060, 9132, 9190, 9250, 9310, 9412, 9492, 9572, 9630, 9690, 9750, 9792,
            520, 580, 640, 700, 760, 930, 990, 1050, 1110, 1170, 1230, 2100, 2160, 2220, 2280, 2340, 2400, 2460, 2520,
            2820, 2880, 2940, 3000, 3060, 3200, 3260, 3320, 3380, 3440, 3500, 3560, 3620, 3680, 3740, 3800, 4000,
            4060, 4120, 4180, 4240, 4300, 4360, 4420, 4480, 6940, 7000, 7060, 7120, 7180, 7240, 7300, 7360, 8640,
            8700, 8760, 8820, 8880, 8940, 9160, 9220, 9280]
row_6175 = [20, 152, 210, 270, 330, 390, 450, 510, 570, 652, 692, 750, 810, 870, 930, 990, 1050, 1110, 1200, 1260,
            1320, 1380, 1440, 1500, 1580, 1700, 1800, 1860, 1920, 2000, 2052, 2188, 2252, 2360, 2468, 2530, 2590,
            2650, 2710, 2770, 2830, 2890, 2950, 3010, 3070, 3130, 3190, 3250, 3310, 3370, 3430, 3490, 3540, 3620,
            3700, 3770, 3840, 3920, 3980, 4040, 4100, 4160, 4220, 4340, 4420, 4480, 4540, 4600, 4660, 4720, 4780,
            4840, 4900, 4960, 5020, 5080, 5140, 5200, 5260, 5320, 5380, 5432, 5632, 5712, 5804, 5872, 5964, 6020,
            6080, 6140, 6200, 6260, 6320, 6412, 6472, 6552, 6644, 6720, 6792, 6892, 6960, 7032, 7132, 7260, 7320,
            7380, 7440, 7500, 7560, 7632, 7720, 7812, 7892, 7950, 8010, 8070, 8172, 8532, 8604, 8670, 8730, 8792,
            8912, 8992, 9072, 9130, 9190, 9250, 9310, 9370, 9430, 9490, 9552, 9652, 9724, 9792, 9850, 9873,
            180, 240, 300, 360, 420, 480, 540, 720, 780, 840, 900, 960, 1020, 1080, 2500, 2560, 2620, 2680, 2740,
            2800, 2860, 2920, 2980, 3040, 3100, 3160, 3220, 3280, 3340, 3400, 3460, 3950, 4010, 4070, 4130, 4190,
            4450, 4510, 4570, 4630, 4690, 4750, 4810, 4870, 5990, 6050, 6110, 6170, 6230, 6290, 7290, 7350, 7410,
            7470, 7530, 7590, 9100, 9160, 9220, 9280, 9340, 9400, 9460, 9520]
row_6174 = [0, 60, 120, 180, 220, 300, 420, 460, 520, 580, 640, 700, 780, 872, 940, 1000, 1060, 1140, 1180, 1240, 1300,
            1360, 1436, 1520, 1580, 1640, 1700, 1760, 1820, 1860, 1940, 2068, 2130, 2180, 2240, 2320, 2400, 2470,
            2540, 2660, 2720, 2840, 2900, 2960, 3020, 3080, 3140, 3200, 3260, 3320, 3380, 3440, 3480, 3540, 3660,
            3730, 3800, 3920, 3980, 4040, 4100, 4150, 4200, 4300, 4400, 4480, 4540, 4600, 4660, 4720, 4760, 4830,
            4900, 4960, 5032, 5092, 5160, 5230, 5300, 5352, 5484, 5544, 5724, 5820, 6012, 6070, 6130, 6212, 6264,
            6352, 6440, 6532, 6632, 6710, 6792, 6832, 6890, 6950, 7010, 7070, 7130, 7192, 7272, 7352, 7460, 7524,
            7784, 7892, 8232, 8300, 8370, 8440, 8512, 8632, 8700, 8760, 8812, 8892, 8992, 9092, 9150, 9210, 9270,
            9330, 9390, 9450, 9510, 9570, 9652, 9684, 9752]
row_6173 = [8, 60, 212, 428, 536, 716, 884, 1028, 1376, 1652, 1736, 2468, 2708, 2768, 2864, 3536, 3620, 3788, 4028,
            4208, 4292, 4880, 5184, 5352, 5520, 5580, 6000, 6144, 6276, 6480, 6552, 6708, 6840, 6924, 7392, 7460,
            7968, 8016, 8280, 8652, 9036, 9108, 9216, 9300, 9444, 9744, 9804]
row_6172 = [188, 236, 296, 560, 608, 764, 992, 1064, 1124, 1172, 1256, 1328, 1460, 1532, 1748, 1784, 1976, 2180, 2348,
            2420, 2672, 2768, 2852, 2924, 2984, 3056, 3212, 3260, 3320, 3380, 3716, 3920, 4124, 4232, 4520, 4580,
            4676, 4856, 4896, 5052, 5100, 5256, 5364, 5484, 5520, 5592, 5724, 5760, 5868, 5952, 6024, 6252, 6432,
            6528, 6888, 7008, 7272, 7308, 7404, 7440, 7740, 7812, 8172, 8352, 8412, 8688, 8784, 8820, 9012, 9108,
            9372, 9472]
row_6171 = [116, 152, 272, 428, 644, 752, 1040, 1136, 1172, 1232, 1304, 1520, 1724, 1844, 1868, 2048, 2072, 2252, 2348,
            2468, 2600, 2684, 2708, 3020, 3260, 3464, 3860, 3932, 4868, 5064, 5136, 5376, 5412, 5604, 5892, 6048,
            6456, 7320, 7368, 8268, 8472, 8640, 8736, 9180, 9288, 9672, 9720]
row_6170 = [8, 320, 440, 476, 536, 944, 1028, 1124, 1640, 1880, 1988, 2180, 2756, 2972, 3272, 3332, 3500, 3596, 3620,
            3728, 3812, 3872, 3968, 4112, 4172, 4244, 4496, 4664, 4724, 4772, 4896, 5088, 5160, 5304, 5352, 5556,
            5904, 6012, 6336, 6408, 6444, 6588, 6660, 6780, 7200, 7224, 7536, 7884, 8160, 8220, 8916, 9072, 9132,
            9552, 9624, 9648, 9744]
row_6169 = [224, 512, 644, 704, 1112, 2000, 2072, 2408, 2792, 3632, 4088, 6672, 7236, 7284, 7548, 9120, 9228, 9792]
row_6168 = [260, 284, 584, 908, 968, 1028, 1352, 1472, 1544, 1676, 1796, 1892, 1940, 3188, 3632, 4484, 5616, 6228,
            6408, 6708, 6948, 7428, 7944, 8376]
row_6167 = [104, 320, 356, 704, 740, 1028, 1496, 1532, 1616, 1952, 2012, 2084, 2156, 2240, 3416, 6348, 7236, 7476,
            8064, 8844, 9012]
row_6166 = [272, 308, 344, 728, 812, 1388, 1808, 2636, 3272, 3320, 3932, 4532, 6804, 6996, 7512, 8460, 9144]
row_6165 = [548, 2996, 4112, 6600, 7008, 9084]
row_6163 = [1124, 2600, 3500]
row_6162 = [7572]

levels = {6206: row_6206, 6205: row_6205, 6204: row_6204, 6203: row_6203, 6202: row_6202, 6201: row_6201,
          6200: row_6200, 6199: row_6199, 6198: row_6198, 6197: row_6197, 6196: row_6196, 6195: row_6195,
          6194: row_6194, 6193: row_6193, 6192: row_6192, 6191: row_6191, 6190: row_6190, 6189: row_6189,
          6188: row_6188, 6187: row_6187, 6186: row_6186, 6185: row_6185, 6184: row_6184, 6183: row_6183,
          6182: row_6182, 6181: row_6181, 6180: row_6180, 6179: row_6179, 6178: row_6178, 6177: row_6177,
          6176: row_6176, 6175: row_6175, 6174: row_6174, 6173: row_6173, 6172: row_6172, 6171: row_6171,
          6170: row_6170, 6169: row_6169, 6168: row_6168, 6167: row_6167, 6166: row_6166, 6165: row_6165,
          6163: row_6163, 6162: row_6162}

samples = np.concatenate([np.array(v, dtype=float) for v in levels.values()])
counts = np.concatenate([np.full(len(v), k, dtype=float) for k, v in levels.items()])

mean_val = 6183.55
std_val = 5.86

plt.figure(figsize=(10, 10))
plt.plot(samples, counts, 'k.', label=f"Samples\n$\\mu$ = {mean_val:.2f}, $\\sigma$ = {std_val:.2f}")
plt.title("Run 665, channel073, Pedestal")
plt.xlabel("Sample #")
plt.ylabel("ADC Counts")
plt.grid(True)
plt.legend(loc="upper right")
plt.subplots_adjust(left=0.08, right=0.985, top=0.965, bottom=0.058)
plt.savefig("out.png", dpi=100)
